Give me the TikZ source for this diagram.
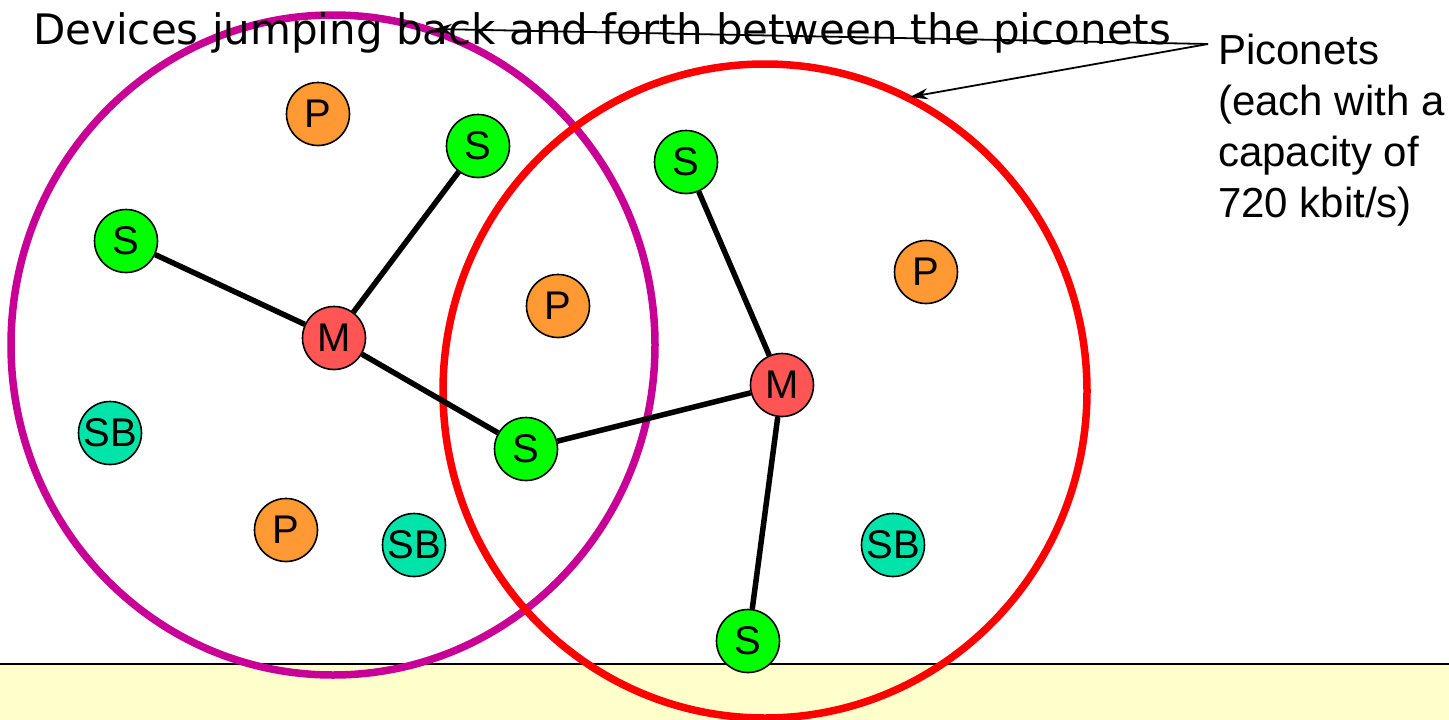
\documentclass[tikz,border=0pt]{standalone}
\usepackage{fontspec}
\setmainfont{Liberation Sans}
\newfontfamily\titlefont{DejaVu Sans}
\usetikzlibrary{arrows.meta}
\definecolor{bandyellow}{RGB}{255,255,204}
\definecolor{netpurple}{RGB}{200,0,150}
\definecolor{netred}{RGB}{255,0,0}
\definecolor{sgreen}{RGB}{0,255,0}
\definecolor{porange}{RGB}{255,153,51}
\definecolor{mred}{RGB}{255,85,85}
\definecolor{sbteal}{RGB}{0,228,170}
\tikzset{
  dev/.style={circle,draw=black,line width=1.6pt,minimum size=63pt,inner sep=0pt,
    font=\fontsize{40}{44}\selectfont},
  sdev/.style={dev,fill=sgreen},
  pdev/.style={dev,fill=porange},
  mdev/.style={dev,fill=mred},
  sbdev/.style={dev,fill=sbteal},
  link/.style={line width=5.5pt,black},
  pointer/.style={line width=1.8pt,-{Stealth[length=18pt,width=11pt]}},
}
\begin{document}
\begin{tikzpicture}[x=1pt,y=-1pt]
\useasboundingbox (0,0) rectangle (1449,720);
% bottom band
\fill[bandyellow] (0,664) rectangle (1449,720);
\draw[line width=2pt] (0,664) -- (1449,664);
% piconet ellipses
\draw[netpurple,line width=7.5pt] (333,345) ellipse [x radius=322pt, y radius=330pt];
\draw[netred,line width=7.5pt] (765,391) ellipse [x radius=322pt, y radius=327pt];
% title
\node[anchor=base west,inner sep=0pt,font=\titlefont\fontsize{42}{48}\selectfont] (title) at (33,44) {Devices jumping back and forth between the piconets};
% devices
\node[pdev] (p1) at (318,114) {P};
\node[sdev] (s1) at (478,146) {S};
\node[sdev] (s2) at (126,241) {S};
\node[mdev] (m1) at (334,338) {M};
\node[pdev] (p2) at (558,306) {P};
\node[sdev] (s3) at (686,162) {S};
\node[pdev] (p3) at (926,272) {P};
\node[mdev] (m2) at (782,385) {M};
\node[sbdev] (sb1) at (110,433) {SB};
\node[sdev] (s4) at (526,449) {S};
\node[pdev] (p4) at (286,530) {P};
\node[sbdev] (sb2) at (414,545) {SB};
\node[sbdev] (sb3) at (893,545) {SB};
\node[sdev] (s5) at (748,641) {S};
% links
\draw[link] (s2) -- (m1);
\draw[link] (m1) -- (s1);
\draw[link] (m1) -- (s4);
\draw[link] (s4) -- (m2);
\draw[link] (m2) -- (s3);
\draw[link] (m2) -- (s5);
% label
\node[anchor=north west,inner sep=0pt,align=left,font=\fontsize{42}{51}\selectfont] (lbl) at (1218,34) {Piconets\\(each with a\\capacity of\\720 kbit/s)};
\coordinate (src) at (1208,44);
\coordinate (t1) at (434,29);
\coordinate (t2) at (910,97);
\draw[pointer] (src) -- (t1);
\draw[pointer] (src) -- (t2);
\end{tikzpicture}
\end{document}
